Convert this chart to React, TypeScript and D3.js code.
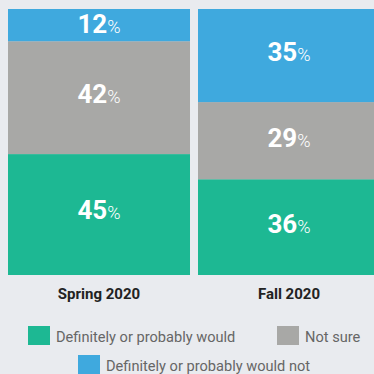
import React from "react";
import * as d3 from "d3";

const categories = ["Spring 2020", "Fall 2020"];
const seriesNames = ["Definitely or probably would", "Not sure", "Definitely or probably would not"];
const wouldValues = [45, 36];
const notSureValues = [42, 29];
const wouldNotValues = [12, 35];
const colors = ["#1db893", "#a8a8a6", "#3fa9de"];

const W = 374;
const H = 374;
const FONT = "Roboto, 'Noto Sans', sans-serif";

export default function App() {
  const x = d3.scaleBand<string>().domain(categories).range([8, 380]).paddingInner(0.0421).paddingOuter(0);
  const y = d3.scaleLinear().domain([0, 1]).range([275, 9]);
  const rows = categories.map((c, i) => ({
    cat: c,
    v0: wouldValues[i],
    v1: notSureValues[i],
    v2: wouldNotValues[i],
  }));
  const stack = d3.stack<any>().keys(["v0", "v1", "v2"]).offset(d3.stackOffsetExpand);
  const series = stack(rows);

  const legend = [
    { i: 0, x: 28, y: 326 },
    { i: 1, x: 277, y: 326 },
    { i: 2, x: 78, y: 355 },
  ];

  return (
    <svg width={W} height={H} style={{ position: "absolute", left: 0, top: 0, background: "#e9ebef" }} fontFamily={FONT}>
      <rect x={0} y={0} width={W} height={H} fill="#e9ebef" />
      {series.map((s, si) => (
        <g key={si}>
          {s.map((d, di) => {
            const x0 = x(d.data.cat)!;
            const yt = y(d[1]);
            const yb = y(d[0]);
            const h = yb - yt;
            const mid = (yt + yb) / 2 - 0.04 * h;
            const val = (d.data as any)[["v0", "v1", "v2"][si]];
            return (
              <g key={di}>
                <rect x={x0} y={yt} width={x.bandwidth()} height={h} fill={colors[si]} />
                <text x={x0 + x.bandwidth() / 2} y={mid + 9.5} textAnchor="middle" fill="#fff">
                  <tspan fontSize={26} fontWeight={700}>{val}</tspan>
                  <tspan fontSize={18} fontWeight={300}>%</tspan>
                </text>
              </g>
            );
          })}
        </g>
      ))}
      {categories.map((c) => (
        <text key={c} x={x(c)! + x.bandwidth() / 2} y={299} textAnchor="middle" fontSize={15} fontWeight={700} fill="#222">
          {c}
        </text>
      ))}
      {legend.map((l) => (
        <g key={l.i}>
          <rect x={l.x} y={l.y} width={22} height={19} fill={colors[l.i]} />
          <text x={l.x + 28} y={l.y + 16} fontSize={14.6} fill="#666">
            {seriesNames[l.i]}
          </text>
        </g>
      ))}
    </svg>
  );
}
